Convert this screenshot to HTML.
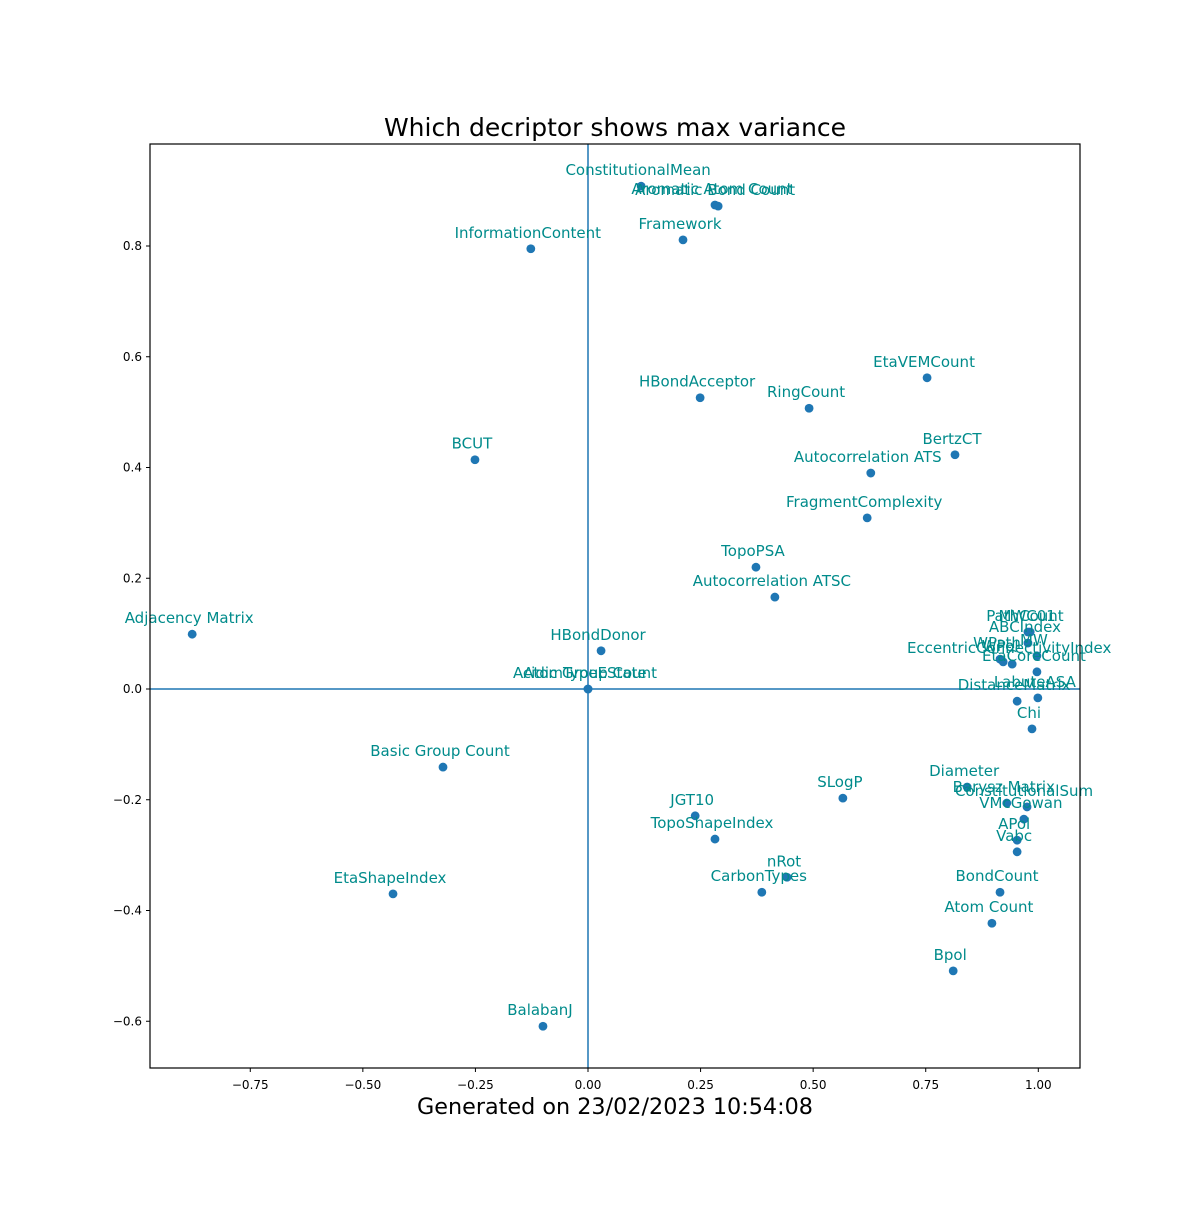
<!DOCTYPE html>
<html><head><meta charset="utf-8"><style>
body{margin:0;background:#fff}
text{font-family:"DejaVu Sans","Liberation Sans",sans-serif}
</style></head><body>
<svg id="chart" width="1200" height="1200" viewBox="0 0 1200 1200" xmlns="http://www.w3.org/2000/svg">
<rect width="1200" height="1200" fill="#fff"/>
<text x="615" y="136" text-anchor="middle" font-size="25">Which decriptor shows max variance</text>
<text x="615" y="1114" text-anchor="middle" font-size="22.3">Generated on 23/02/2023 10:54:08</text>
<g id="axes"></g>
<g id="marks"></g>
<g id="labels"></g>
<rect x="150" y="144" width="930" height="924" fill="none" stroke="#000" stroke-width="1.2"/>
</svg>
<script>
const names=["ConstitutionalMean","Aromatic Atom Count","Aromatic Bond Count","Framework","InformationContent","EtaVEMCount","HBondAcceptor","RingCount","BCUT","BertzCT","Autocorrelation ATS","FragmentComplexity","TopoPSA","Autocorrelation ATSC","Adjacency Matrix","HBondDonor","Acidic Group Count","AtomTypeEState","Basic Group Count","SLogP","JGT10","TopoShapeIndex","nRot","CarbonTypes","EtaShapeIndex","BalabanJ","PathCount","MWC01","ABCIndex","WPath","WPol","EccentricConnectivityIndex","MW","EtaCoreCount","LabuteASA","DistanceMatrix","Chi","Diameter","Barysz Matrix","ConstitutionalSum","VMcGowan","APol","Vabc","BondCount","Atom Count","Bpol"];
const xs=[0.118,0.282,0.289,0.211,-0.127,0.753,0.249,0.491,-0.251,0.815,0.628,0.620,0.373,0.415,-0.879,0.029,0,0,-0.322,0.566,0.238,0.282,0.442,0.386,-0.433,-0.100,0.977,0.982,0.977,0.915,0.922,0.942,0.997,0.997,0.999,0.953,0.986,0.842,0.930,0.975,0.968,0.953,0.953,0.915,0.897,0.811];
const ys=[0.908,0.874,0.872,0.811,0.795,0.562,0.526,0.507,0.414,0.423,0.390,0.309,0.220,0.166,0.099,0.069,0,0,-0.141,-0.197,-0.229,-0.271,-0.340,-0.367,-0.370,-0.609,0.103,0.103,0.083,0.054,0.049,0.045,0.060,0.031,-0.016,-0.022,-0.072,-0.177,-0.206,-0.213,-0.235,-0.273,-0.294,-0.367,-0.423,-0.509];
const xTicks=[-0.75,-0.5,-0.25,0,0.25,0.5,0.75,1.0];
const xTickLabels=["−0.75","−0.50","−0.25","0.00","0.25","0.50","0.75","1.00"];
const yTicks=[-0.6,-0.4,-0.2,0,0.2,0.4,0.6,0.8];
const yTickLabels=["−0.6","−0.4","−0.2","0.0","0.2","0.4","0.6","0.8"];
const X=v=>588+v*450.3, Y=v=>689-v*553.75;
const NS="http://www.w3.org/2000/svg";
function mk(tag,attrs,parent){const e=document.createElementNS(NS,tag);for(const k in attrs)e.setAttribute(k,attrs[k]);parent.appendChild(e);return e;}
const ax=document.getElementById('axes'),mg=document.getElementById('marks'),lg=document.getElementById('labels');
xTicks.forEach((t,i)=>{const l=mk('line',{x1:X(t),x2:X(t),y1:1068,y2:1072,stroke:'#000'},ax);


const tx=mk('text',{x:X(t),y:1089,'text-anchor':'middle','font-size':12},ax);tx.textContent=xTickLabels[i];

});
yTicks.forEach((t,i)=>{const l=mk('line',{x1:146,x2:150,y1:Y(t),y2:Y(t),stroke:'#000'},ax);


const tx=mk('text',{x:142,y:Y(t)+4,'text-anchor':'end','font-size':12},ax);tx.textContent=yTickLabels[i];

});
const vl=mk('line',{x1:X(0),x2:X(0),y1:144,y2:1068,stroke:'#1f77b4','stroke-width':1.5},ax);


const hl=mk('line',{x1:150,x2:1080,y1:Y(0),y2:Y(0),stroke:'#1f77b4','stroke-width':1.5},ax);


names.forEach((n,i)=>{const c=mk('circle',{cx:X(xs[i]),cy:Y(ys[i]),r:4.4,fill:'#1f77b4'},mg);


const t=mk('text',{x:X(xs[i])-3,y:Y(ys[i])-11,'text-anchor':'middle','font-size':15,fill:'#008b8b'},lg);t.textContent=n;

});
</script>
</body></html>
